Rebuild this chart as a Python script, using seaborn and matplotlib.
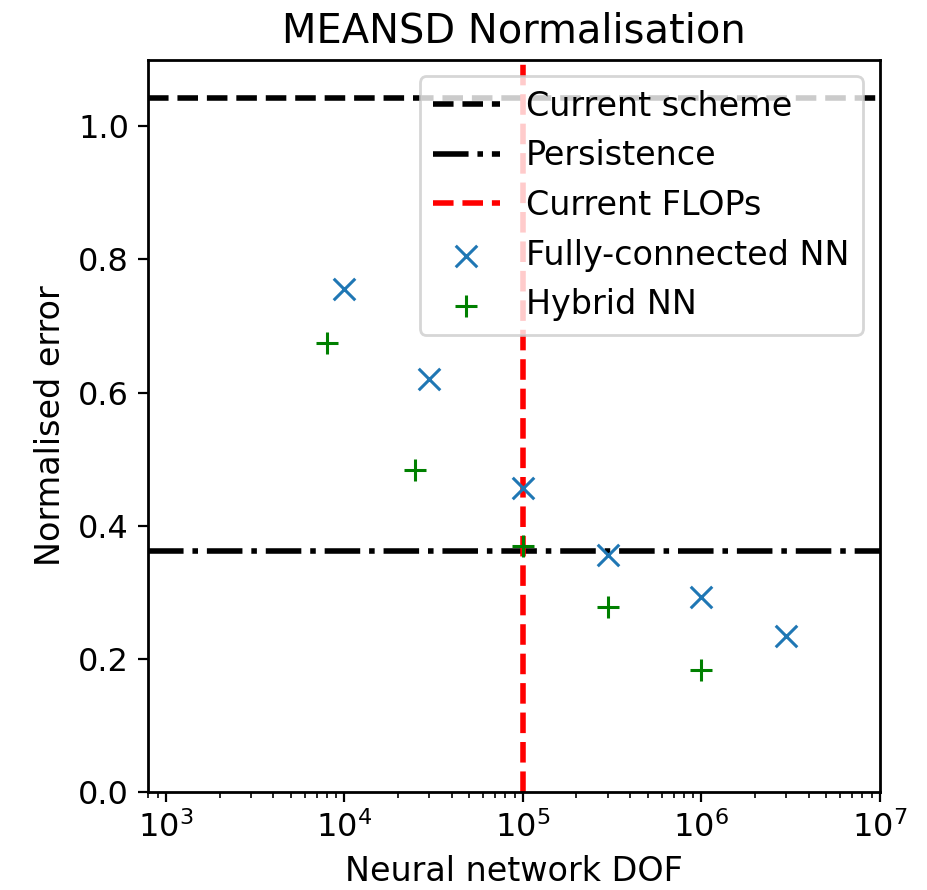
import numpy as np
import pandas as pd
import matplotlib
matplotlib.use("Agg")
import matplotlib.pyplot as plt
import seaborn as sns

# values
fc_dof = [1e4, 3e4, 1e5, 3e5, 1e6, 3e6]
fc_err = [0.755, 0.620, 0.457, 0.356, 0.293, 0.234]
hyb_dof = [8e3, 2.5e4, 1e5, 3e5, 1e6]
hyb_err = [0.675, 0.483, 0.370, 0.278, 0.184]
current_scheme = 1.043
persistence = 0.362
current_flops = 1e5

sns.set_style("ticks", rc={
    "axes.edgecolor": "black", "text.color": "black", "axes.labelcolor": "black",
    "xtick.color": "black", "ytick.color": "black",
})
plt.rcParams["font.family"] = ["DejaVu Sans"]
plt.rcParams["font.size"] = 12

fig, ax = plt.subplots(figsize=(4.64, 4.45), dpi=200)
fig.subplots_adjust(left=0.16, right=0.948, top=0.933, bottom=0.11)

ax.axhline(current_scheme, color="black", linestyle="--", linewidth=2, label="Current scheme")
ax.axhline(persistence, color="black", linestyle="-.", linewidth=2, label="Persistence")
ax.axvline(current_flops, color="red", linestyle="--", linewidth=2, label="Current FLOPs")

fc = pd.DataFrame({"dof": fc_dof, "err": fc_err})
hyb = pd.DataFrame({"dof": hyb_dof, "err": hyb_err})
sns.scatterplot(data=fc, x="dof", y="err", marker="x", color="#1f77b4", s=60,
                linewidth=1.1, label="Fully-connected NN", ax=ax, zorder=3)
sns.scatterplot(data=hyb, x="dof", y="err", marker="+", color="green", s=60,
                linewidth=1.1, label="Hybrid NN", ax=ax, zorder=3)

ax.set_xscale("log")
ax.set_xlim(800, 1e7)
ax.set_ylim(0, 1.1)
ax.set_xlabel("Neural network DOF", fontsize=12)
ax.set_ylabel("Normalised error", fontsize=12)
ax.set_title("MEANSD Normalisation", fontsize=14.4)
ax.tick_params(labelsize=11.5)
for s in ax.spines.values():
    s.set_visible(True)
    s.set_linewidth(1.0)
ax.legend(loc="upper right", fontsize=12, framealpha=0.8)

fig.savefig("out.png", dpi=200)
